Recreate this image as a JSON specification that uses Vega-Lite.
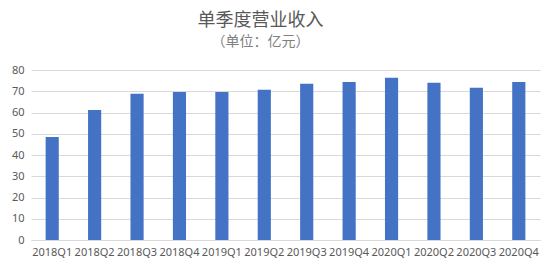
{
  "$schema": "https://vega.github.io/schema/vega-lite/v6.json",
  "width": 509,
  "height": 170,
  "autosize": {"type": "none"},
  "padding": {"left": 31, "top": 70, "right": 16, "bottom": 33},
  "background": "white",
  "title": {
    "text": "单季度营业收入",
    "subtitle": "（单位：亿元）",
    "anchor": "middle",
    "dx": -25,
    "offset": 15,
    "font": "Noto Sans CJK SC",
    "fontSize": 18,
    "fontWeight": "normal",
    "color": "#595959",
    "subtitleFont": "Noto Sans CJK SC",
    "subtitleFontSize": 14,
    "subtitleColor": "#808080",
    "subtitlePadding": 5
  },
  "data": {
    "values": [
      {"quarter": "2018Q1", "revenue": 48.5},
      {"quarter": "2018Q2", "revenue": 61.2},
      {"quarter": "2018Q3", "revenue": 68.8},
      {"quarter": "2018Q4", "revenue": 69.6},
      {"quarter": "2019Q1", "revenue": 69.7},
      {"quarter": "2019Q2", "revenue": 70.7},
      {"quarter": "2019Q3", "revenue": 73.5},
      {"quarter": "2019Q4", "revenue": 74.4},
      {"quarter": "2020Q1", "revenue": 76.3},
      {"quarter": "2020Q2", "revenue": 74.0},
      {"quarter": "2020Q3", "revenue": 71.6},
      {"quarter": "2020Q4", "revenue": 74.4}
    ]
  },
  "mark": {"type": "bar", "color": "#4472C4"},
  "encoding": {
    "x": {
      "field": "quarter",
      "type": "nominal",
      "sort": null,
      "title": null,
      "scale": {"paddingInner": 0.69, "paddingOuter": 0.345},
      "axis": {
        "labelAngle": 0,
        "ticks": false,
        "domainColor": "#d9d9d9",
        "labelColor": "#595959",
        "labelFont": "Noto Sans",
        "labelFontSize": 11,
        "labelPadding": 6
      }
    },
    "y": {
      "field": "revenue",
      "type": "quantitative",
      "title": null,
      "scale": {"domain": [0, 80], "nice": false},
      "axis": {
        "values": [0, 10, 20, 30, 40, 50, 60, 70, 80],
        "ticks": false,
        "domain": false,
        "gridColor": "#d9d9d9",
        "labelColor": "#595959",
        "labelFont": "Noto Sans",
        "labelFontSize": 11,
        "labelPadding": 7
      }
    }
  },
  "config": {"view": {"stroke": null}}
}
